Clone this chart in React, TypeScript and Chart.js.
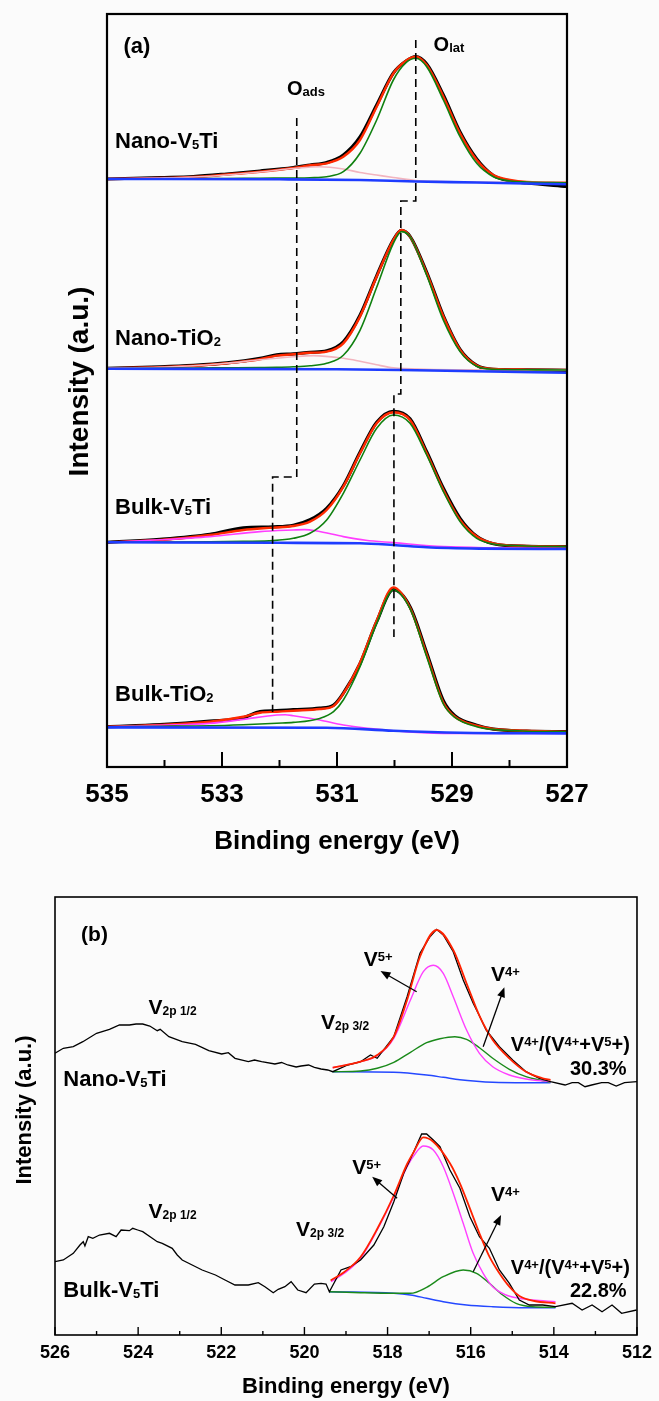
import React, { useEffect, useRef } from 'react';
import { Chart, registerables } from 'chart.js';
Chart.register(...registerables);

const FAMILY = '"Liberation Sans", Arial, Helvetica, sans-serif';

// ================= Panel (a): O 1s =================
const xMinA = 527;
const xMaxA = 535;
// vertical offsets of the stacked spectra (a.u.)
const offsetsA = [588, 398.7, 224.7, 40.3];

// Nano-V5Ti
const nanoV5TiE = [535.0, 534.08, 533.5, 532.92, 532.34, 531.76, 531.47, 531.18, 530.89, 530.6, 530.31, 530.02, 529.8, 529.63, 529.44, 529.15, 528.86, 528.57, 528.28, 527.99, 527.7, 527.0];
const nanoV5TiRaw = [0, 1.5, 2.5, 5, 8, 11.5, 14, 16.5, 24, 42, 74, 106, 118, 122.5, 115, 84, 47, 20, 3.5, -2, -4, -7.5];
const nanoV5TiFit = [0, 1, 2, 4.5, 7.3, 11, 13.7, 15.7, 22.3, 39, 72.3, 105.7, 118.3, 122.3, 114, 82.3, 45.7, 19, 4, -1, -3, -3.7];
const nanoV5TiLat = [0, 0, 0.3, 0.5, 0.8, 1, 1.3, 2.3, 7.3, 25.7, 59, 99, 116.3, 120.7, 112.3, 79, 42.3, 15.7, 2.3, -2, -3, -3.7];
const nanoV5TiAdsE = [535, 534.08, 533.5, 532.92, 532.34, 531.76, 531.3, 530.89, 530.6, 530.31, 530.02, 529.63, 529.15, 528.57, 527.99, 527.0];
const nanoV5TiAds = [0, 1, 2, 4, 7, 10.5, 12.3, 10, 6.5, 4, 1.5, -1.5, -2.5, -3, -3.3, -3.7];
const nanoV5TiBgE = [535, 532.0, 530.6, 529.63, 528.57, 527.0];
const nanoV5TiBg = [0, -0.3, -1, -2.5, -3.5, -5.3];

// Nano-TiO2
const nanoTiO2E = [535.0, 534.08, 533.5, 532.92, 532.34, 532.05, 531.76, 531.47, 531.18, 530.89, 530.6, 530.31, 530.02, 529.88, 529.73, 529.44, 529.15, 528.86, 528.57, 528.28, 527.7, 527.0];
const nanoTiO2Raw = [0, 1.5, 3, 5.5, 10, 13.5, 14.5, 16, 17.5, 26.5, 53, 92.5, 128.5, 138, 132, 96, 52.5, 19, 3, -1, -1.5, -2];
const nanoTiO2Fit = [0, 1, 2.5, 5, 9, 12.7, 14, 15.5, 16.7, 25, 51.7, 91.7, 128.3, 138.3, 131.7, 95, 51.7, 18.3, 2.7, -0.7, -1.3, -1.7];
const nanoTiO2Lat = [-0.3, 0, 0.2, 0.5, 0.8, 1, 1.5, 2.5, 5, 13, 38, 81, 125, 136.7, 131.7, 93, 48, 16.7, 2, -1, -1.5, -1.7];
const nanoTiO2AdsE = [535, 534.08, 533.5, 532.92, 532.34, 531.76, 531.41, 530.89, 530.6, 530.31, 530.02, 529.44, 528.57, 527.0];
const nanoTiO2Ads = [0, 1, 2.5, 5, 8.5, 11.5, 12.7, 10, 7, 3.5, 0.5, -1, -1.5, -1.7];
const nanoTiO2BgE = [535, 531.0, 529.9, 528.6, 527.0];
const nanoTiO2Bg = [-0.5, -1, -1.7, -3, -4.5];

// Bulk-V5Ti
const bulkV5TiE = [535.0, 534.08, 533.21, 532.63, 532.11, 531.76, 531.47, 531.18, 530.89, 530.6, 530.31, 530.02, 529.73, 529.44, 529.15, 528.86, 528.57, 528.28, 527.7, 527.0];
const bulkV5TiRaw = [0, 3, 8, 14.5, 15.5, 17, 22.5, 34, 56.5, 90, 120, 131, 123.5, 90.5, 54, 24, 6, -1.5, -4, -4.3];
const bulkV5TiFit = [0, 2.3, 7.3, 12.3, 14.7, 16.3, 20.7, 32.3, 55.7, 89, 119, 130, 122.3, 89, 52.3, 22.3, 5.7, -1, -3.7, -4.3];
const bulkV5TiLat = [0, 0.2, 0.5, 1, 1.7, 4, 9, 22.3, 49, 82.3, 114, 127.3, 119, 87.3, 50.7, 20.7, 4, -1.7, -3.7, -4.3];
const bulkV5TiAdsE = [535, 534.08, 533.21, 532.34, 531.76, 531.56, 531.35, 530.89, 530.5, 530.02, 529.15, 528.3, 527.0];
const bulkV5TiAds = [0, 2.5, 5.7, 10.7, 12.3, 12.7, 11.3, 5.7, 2, -0.3, -4.3, -5.5, -6];
const bulkV5TiBgE = [535, 532, 530.6, 530.02, 529.44, 528.5, 527.0];
const bulkV5TiBg = [0, -0.5, -1, -2.7, -5, -6.3, -6.7];

// Bulk-TiO2
const bulkTiO2E = [535.0, 534.08, 533.21, 532.63, 532.34, 532.05, 531.76, 531.3, 531.06, 530.89, 530.6, 530.31, 530.02, 529.73, 529.44, 529.15, 528.95, 528.57, 528.28, 527.7, 527.0];
const bulkTiO2Raw = [0, 2, 5.5, 9, 15, 16, 17, 18.5, 21.5, 33.5, 63, 105, 137, 120, 74, 26, 11, 1.5, -2.5, -4.5, -5];
const bulkTiO2Fit = [0, 1.7, 5, 10, 14, 15, 16, 17.7, 20.7, 33, 64, 106, 139.3, 119, 72, 24, 10, 1, -2.3, -4, -5];
const bulkTiO2Lat = [0, 0.5, 1, 2, 2.7, 3.5, 4.3, 8.3, 15, 26.7, 60, 103.3, 136.7, 118, 70, 22.7, 9.3, 0, -2.7, -4.5, -5];
const bulkTiO2AdsE = [535, 534.08, 533.21, 532.63, 532.05, 531.9, 531.76, 531.3, 530.89, 530.02, 529.15, 528.0, 527.0];
const bulkTiO2Ads = [0, 1.5, 3.3, 7.3, 11.7, 12, 11, 6.7, 1.7, -4, -6.7, -6.7, -6.7];
const bulkTiO2BgE = [535, 531.18, 530.02, 528.86, 527.0];
const bulkTiO2Bg = [-0.7, -1, -4, -6, -6.7];

// dashed guide lines (peak positions)
const oLatDashE = [529.63, 529.63, 529.89, 529.89, 530.01, 530.01];
const oLatDashV = [727, 566, 566, 373, 373, 130];
const oAdsDashE = [531.7, 531.7, 532.12, 532.12];
const oAdsDashV = [649, 290, 290, 55];

// ================= Panel (b): V 2p =================
const xMinB = 512;
const xMaxB = 526;

const nanoRawE = [526.0, 525.8, 525.56, 525.33, 525.0, 524.69, 524.45, 524.21, 524.05, 523.89, 523.72, 523.54, 523.47, 523.26, 522.94, 522.62, 522.3, 521.99, 521.83, 521.67, 521.35, 521.2, 521.03, 520.71, 520.55, 520.4, 520.2, 520.08, 519.9, 519.76, 519.6, 519.44, 519.32, 518.96, 518.65, 518.41, 518.25, 517.85, 517.53, 517.22, 516.98, 516.82, 516.66, 516.42, 516.18, 515.94, 515.82, 515.63, 515.31, 514.99, 514.67, 514.35, 514.08, 513.73, 513.56, 513.41, 513.25, 513.09, 512.85, 512.69, 512.5, 512.3, 512.0];
const nanoRawV = [281.7, 286.7, 288.3, 293.3, 301.7, 305.7, 310, 310, 311, 311, 309, 304.3, 305.7, 298.3, 293.3, 290.7, 284.3, 281, 282.3, 276.7, 273.3, 275, 273.3, 271, 272.5, 270, 268, 269, 270, 267.7, 266, 265, 263.3, 270, 273.3, 280, 276.7, 298.3, 338.3, 381.7, 398.3, 405.7, 400, 383.3, 355, 331.7, 321.7, 305, 288.3, 275, 263.3, 256.7, 253.3, 250, 252.3, 252.3, 248.3, 250, 252.3, 252.3, 249, 252.3, 253.3];
const nanoFitE = [519.32, 518.65, 518.25, 517.85, 517.53, 517.22, 516.82, 516.42, 516.1, 515.78, 515.47, 515.07, 514.67, 514.27, 514.08];
const nanoFitV = [267.3, 273.3, 280, 298.3, 335, 378.3, 405, 385, 351.7, 318.3, 295, 276.7, 263.3, 256.7, 255];
const nanoV5E = [519.32, 518.65, 518.25, 517.85, 517.45, 517.14, 516.9, 516.66, 516.42, 516.1, 515.79, 515.47, 515.07, 514.67, 514.08];
const nanoV5V = [267.3, 273.3, 279.3, 296.7, 335, 363.3, 369.7, 361.7, 338.3, 305, 281.7, 268.3, 260, 256, 253.3];
const nanoV4E = [519.32, 518.65, 518.25, 517.85, 517.45, 517.06, 516.74, 516.38, 516.1, 515.79, 515.47, 515.07, 514.67, 514.35, 514.08];
const nanoV4V = [263.3, 264, 266.7, 272.7, 282.7, 292.3, 296.3, 298.3, 295.7, 287.3, 276.7, 265.7, 258.3, 255, 252.7];
const nanoBgE = [519.32, 517.85, 517.06, 516.66, 516.26, 515.86, 515.47, 514.67, 514.08];
const nanoBgV = [263.3, 262.7, 260, 257.7, 255.3, 253.7, 252.7, 252.3, 252.3];

const bulkRawE = [526.0, 525.8, 525.56, 525.4, 525.32, 525.28, 525.2, 525.09, 524.93, 524.69, 524.53, 524.41, 524.21, 524.13, 524.01, 523.89, 523.66, 523.54, 523.42, 523.18, 523.06, 522.94, 522.7, 522.46, 522.14, 521.91, 521.67, 521.35, 521.11, 520.95, 520.75, 520.63, 520.47, 520.32, 520.16, 519.96, 519.76, 519.6, 519.48, 519.4, 519.12, 518.89, 518.65, 518.33, 518.09, 517.85, 517.61, 517.37, 517.18, 517.06, 516.9, 516.74, 516.5, 516.26, 516.02, 515.79, 515.55, 515.31, 515.07, 514.83, 514.59, 514.27, 513.96, 513.56, 513.32, 513.08, 512.84, 512.6, 512.37, 512.01];
const bulkRawV = [73.3, 75, 81.7, 90, 93.3, 89, 98.3, 96.7, 100, 101.7, 98.3, 105, 104.3, 106.7, 105, 103.3, 96.7, 93.3, 91.7, 86.7, 80, 75, 70, 65, 60, 55, 50, 50, 52.3, 48.3, 42.3, 45.7, 48.3, 53.3, 45, 42.3, 51, 51.7, 51, 43.3, 65, 68.3, 75, 90, 108.3, 133.3, 161.7, 183.3, 201, 201, 195, 188.3, 165, 146.7, 118.3, 98.3, 86.7, 65, 51.7, 35, 30, 30, 28.3, 31.7, 25, 30, 23.3, 30, 21.7, 25];
const bulkFitE = [519.37, 519.04, 518.65, 518.25, 517.85, 517.53, 517.37, 517.14, 516.9, 516.5, 516.26, 516.02, 515.79, 515.55, 515.31, 515.07, 514.83, 514.47, 513.96];
const bulkFitV = [54.5, 63, 78, 106, 139.5, 171, 183, 197.7, 193.3, 171.7, 151.7, 126.7, 101.7, 78.3, 61.7, 48.3, 39, 34, 31.7];
const bulkV5E = [519.36, 519.04, 518.65, 518.25, 517.85, 517.53, 517.3, 517.14, 516.9, 516.66, 516.42, 516.18, 515.94, 515.7, 515.47, 515.15, 514.83, 514.51, 513.96];
const bulkV5V = [53.3, 61.7, 76.7, 105, 138.3, 168.3, 183.3, 189, 185, 168.3, 141.7, 111.7, 81.7, 61.7, 48.3, 40, 36.7, 35, 33.3];
const bulkV4E = [519.4, 518.65, 517.85, 517.45, 517.06, 516.66, 516.18, 515.86, 515.55, 515.23, 514.91, 514.51, 513.96];
const bulkV4V = [43.3, 42.3, 41.7, 41.7, 47.7, 58.3, 65, 61.7, 51.7, 40, 31.7, 28.3, 27.7];
const bulkBgE = [519.4, 517.85, 517.45, 517.06, 516.66, 516.1, 515.47, 514.67, 513.96];
const bulkBgV = [43.3, 41.7, 40, 36.7, 33.3, 30, 28.3, 27.3, 27.3];

// ================= helpers =================
type Pt = { x: number; y: number };
const series = (E: number[], V: number[], off = 0): Pt[] => E.map((e, i) => ({ x: e, y: V[i] + off }));

function ds(data: Pt[], color: string, width: number, order: number, extra: any = {}) {
  return {
    data,
    borderColor: color,
    backgroundColor: color,
    borderWidth: width,
    pointRadius: 0,
    pointHoverRadius: 0,
    fill: false,
    order,
    cubicInterpolationMode: 'monotone',
    ...extra,
  };
}

type Seg = { t: string; k: 'n' | 'sub' | 'sup' };
function parseRich(s: string): Seg[] {
  const out: Seg[] = [];
  let buf = '';
  let i = 0;
  while (i < s.length) {
    const c = s[i];
    if ((c === '_' || c === '^') && s[i + 1] === '{') {
      if (buf) { out.push({ t: buf, k: 'n' }); buf = ''; }
      const end = s.indexOf('}', i + 2);
      out.push({ t: s.slice(i + 2, end), k: c === '_' ? 'sub' : 'sup' });
      i = end + 1;
    } else { buf += c; i++; }
  }
  if (buf) out.push({ t: buf, k: 'n' });
  return out;
}

function drawRich(ctx: CanvasRenderingContext2D, s: string, px: number, py: number, size: number, small: number, align: string) {
  const segs = parseRich(s);
  const f = (k: string) => `bold ${k === 'n' ? size : small}px ${FAMILY}`;
  let w = 0;
  segs.forEach((g) => { ctx.font = f(g.k); w += ctx.measureText(g.t).width; });
  let cx = align === 'center' ? px - w / 2 : align === 'right' ? px - w : px;
  const base = py + size * 0.358;
  ctx.textBaseline = 'alphabetic';
  ctx.textAlign = 'left';
  segs.forEach((g) => {
    ctx.font = f(g.k);
    const dy = g.k === 'sub' ? size * 0.05 : g.k === 'sup' ? -size * 0.25 : 0;
    ctx.fillText(g.t, cx, base + dy);
    cx += ctx.measureText(g.t).width;
  });
}

function drawArrow(ctx: CanvasRenderingContext2D, x1: number, y1: number, x2: number, y2: number) {
  const ang = Math.atan2(y2 - y1, x2 - x1);
  const L = 10, W = 4;
  ctx.beginPath();
  ctx.moveTo(x1, y1);
  ctx.lineTo(x2 - (L - 2) * Math.cos(ang), y2 - (L - 2) * Math.sin(ang));
  ctx.stroke();
  ctx.beginPath();
  ctx.moveTo(x2, y2);
  ctx.lineTo(x2 - L * Math.cos(ang) + W * Math.sin(ang), y2 - L * Math.sin(ang) - W * Math.cos(ang));
  ctx.lineTo(x2 - L * Math.cos(ang) - W * Math.sin(ang), y2 - L * Math.sin(ang) + W * Math.cos(ang));
  ctx.closePath();
  ctx.fill();
}

type TextItem = { s: string; e: number; v: number; size: number; small: number; align: string };
type ArrowItem = { from: [number, number]; to: [number, number] };

function decor(p: any) {
  return {
    id: 'decor-' + p.name,
    afterDatasetsDraw(chart: any) {
      const { ctx, chartArea: ca, scales } = chart;
      const x = scales.x, y = scales.y;
      ctx.save();
      ctx.strokeStyle = '#000';
      ctx.fillStyle = '#000';
      // inward ticks
      ctx.lineWidth = p.tickWidth;
      for (let v = x.min; v <= x.max + 1e-9; v += 1) {
        const px = x.getPixelForValue(v);
        const major = Math.abs((v - x.min) % 2) < 1e-6;
        const len = major ? p.majorLen : p.minorLen;
        ctx.beginPath();
        ctx.moveTo(px, ca.bottom);
        ctx.lineTo(px, ca.bottom - len);
        ctx.stroke();
      }
      // frame
      ctx.lineWidth = p.frameWidth;
      ctx.strokeRect(ca.left, ca.top, ca.right - ca.left, ca.bottom - ca.top);
      // arrows
      ctx.lineWidth = 1.3;
      (p.arrows as ArrowItem[]).forEach((a) => {
        drawArrow(ctx, x.getPixelForValue(a.from[0]), y.getPixelForValue(a.from[1]), x.getPixelForValue(a.to[0]), y.getPixelForValue(a.to[1]));
      });
      // annotations
      (p.texts as TextItem[]).forEach((t) => {
        drawRich(ctx, t.s, x.getPixelForValue(t.e), y.getPixelForValue(t.v), t.size, t.small, t.align);
      });
      // axis titles
      ctx.font = `bold ${p.xTitleSize}px ${FAMILY}`;
      ctx.textAlign = 'center';
      ctx.textBaseline = 'middle';
      ctx.fillText(p.xTitle, (ca.left + ca.right) / 2, ca.bottom + p.xTitleOff);
      ctx.save();
      ctx.translate(p.yTitleX, (ca.top + ca.bottom) / 2 + p.yTitleShift);
      ctx.rotate(-Math.PI / 2);
      ctx.font = `bold ${p.yTitleSize}px ${FAMILY}`;
      ctx.fillText(p.yTitle, 0, 0);
      ctx.restore();
      ctx.restore();
    },
  };
}

function options(p: any) {
  return {
    animation: false,
    responsive: false,
    maintainAspectRatio: false,
    devicePixelRatio: 1,
    events: [],
    layout: { padding: { top: p.padTop, right: p.padRight, left: 0, bottom: 0 } },
    plugins: { legend: { display: false }, tooltip: { enabled: false }, title: { display: false } },
    scales: {
      x: {
        type: 'linear', min: p.xMin, max: p.xMax, reverse: true,
        ticks: { stepSize: 2, autoSkip: false, maxRotation: 0, color: '#000', padding: p.tickPad, font: { family: FAMILY, size: p.tickSize, weight: 'bold' } },
        grid: { display: false, drawTicks: false },
        border: { display: false },
        afterFit: (s: any) => { s.height = p.xAxisH; },
      },
      y: {
        type: 'linear', min: 0, max: p.yMax,
        ticks: { display: false },
        grid: { display: false, drawTicks: false },
        border: { display: false },
        afterFit: (s: any) => { s.width = p.yAxisW; },
      },
    },
  };
}

function configA() {
  const black = '#000000', red = '#ff2a00', green = '#0f800f', pink = '#f2b4be', magenta = '#ff3dff', blue = '#1e3cff';
  const spectra = [
    { E: nanoV5TiE, raw: nanoV5TiRaw, fit: nanoV5TiFit, lat: nanoV5TiLat, adsE: nanoV5TiAdsE, ads: nanoV5TiAds, bgE: nanoV5TiBgE, bg: nanoV5TiBg, adsColor: pink },
    { E: nanoTiO2E, raw: nanoTiO2Raw, fit: nanoTiO2Fit, lat: nanoTiO2Lat, adsE: nanoTiO2AdsE, ads: nanoTiO2Ads, bgE: nanoTiO2BgE, bg: nanoTiO2Bg, adsColor: pink },
    { E: bulkV5TiE, raw: bulkV5TiRaw, fit: bulkV5TiFit, lat: bulkV5TiLat, adsE: bulkV5TiAdsE, ads: bulkV5TiAds, bgE: bulkV5TiBgE, bg: bulkV5TiBg, adsColor: magenta },
    { E: bulkTiO2E, raw: bulkTiO2Raw, fit: bulkTiO2Fit, lat: bulkTiO2Lat, adsE: bulkTiO2AdsE, ads: bulkTiO2Ads, bgE: bulkTiO2BgE, bg: bulkTiO2Bg, adsColor: magenta },
  ];
  const datasets: any[] = [];
  spectra.forEach((s, i) => {
    const off = offsetsA[i];
    datasets.push(ds(series(s.E, s.raw, off), black, 3.2, 6));
    datasets.push(ds(series(s.E, s.fit, off), red, 2.4, 5));
    datasets.push(ds(series(s.adsE, s.ads, off), s.adsColor, 1.6, 4));
    datasets.push(ds(series(s.E, s.lat, off), green, 1.6, 3));
    datasets.push(ds(series(s.bgE, s.bg, off), blue, 2.6, 2));
  });
  const dash = { cubicInterpolationMode: 'default', tension: 0, borderDash: [8, 5] };
  datasets.push(ds(series(oLatDashE, oLatDashV), black, 1.6, 1, dash));
  datasets.push(ds(series(oAdsDashE, oAdsDashV), black, 1.6, 1, dash));

  const p = {
    name: 'a', xMin: xMinA, xMax: xMaxA, yMax: 753,
    padTop: 14, padRight: 92, xAxisH: 103, yAxisW: 107, tickPad: 12, tickSize: 26,
    tickWidth: 2, majorLen: 15, minorLen: 7, frameWidth: 2.2,
    xTitle: 'Binding energy (eV)', xTitleSize: 26, xTitleOff: 75,
    yTitle: 'Intensity (a.u.)', yTitleSize: 28, yTitleX: 80, yTitleShift: -9,
    arrows: [] as ArrowItem[],
    texts: [
      { s: '(a)', e: 534.48, v: 722, size: 22, small: 14, align: 'center' },
      { s: 'O_{lat}', e: 529.32, v: 723, size: 20, small: 13, align: 'left' },
      { s: 'O_{ads}', e: 531.87, v: 679, size: 20, small: 13, align: 'left' },
      { s: 'Nano-V_{5}Ti', e: 534.86, v: 627, size: 22, small: 13, align: 'left' },
      { s: 'Nano-TiO_{2}', e: 534.86, v: 430, size: 22, small: 13, align: 'left' },
      { s: 'Bulk-V_{5}Ti', e: 534.86, v: 261, size: 22, small: 13, align: 'left' },
      { s: 'Bulk-TiO_{2}', e: 534.86, v: 73.5, size: 22, small: 13, align: 'left' },
    ] as TextItem[],
  };
  return { type: 'line', data: { datasets }, options: options(p), plugins: [decor(p)] } as any;
}

function configB() {
  const black = '#000000', red = '#ff2200', magenta = '#ff40ff', green = '#1a8a1a', blue = '#2448ff';
  const raw = { cubicInterpolationMode: 'default', tension: 0 };
  const datasets: any[] = [
    ds(series(nanoRawE, nanoRawV), black, 1.3, 2, raw),
    ds(series(nanoFitE, nanoFitV), red, 1.8, 1),
    ds(series(nanoV5E, nanoV5V), magenta, 1.4, 3),
    ds(series(nanoV4E, nanoV4V), green, 1.4, 4),
    ds(series(nanoBgE, nanoBgV), blue, 1.4, 5),
    ds(series(bulkRawE, bulkRawV), black, 1.3, 2, raw),
    ds(series(bulkFitE, bulkFitV), red, 1.8, 1),
    ds(series(bulkV5E, bulkV5V), magenta, 1.4, 3),
    ds(series(bulkV4E, bulkV4V), green, 1.4, 4),
    ds(series(bulkBgE, bulkBgV), blue, 1.4, 5),
  ];
  const p = {
    name: 'b', xMin: xMinB, xMax: xMaxB, yMax: 438,
    padTop: 27, padRight: 17, xAxisH: 66, yAxisW: 55, tickPad: 7, tickSize: 18,
    tickWidth: 1.4, majorLen: 8, minorLen: 4, frameWidth: 1.6,
    xTitle: 'Binding energy (eV)', xTitleSize: 22, xTitleOff: 52,
    yTitle: 'Intensity (a.u.)', yTitleSize: 22, yTitleX: 25, yTitleShift: -6,
    arrows: [
      { from: [517.3, 343.3], to: [518.17, 364] },
      { from: [515.7, 288.3], to: [515.19, 347.7] },
      { from: [517.77, 136.7], to: [518.37, 158.3] },
      { from: [515.94, 63.3], to: [515.27, 120] },
    ] as ArrowItem[],
    texts: [
      { s: '(b)', e: 525.05, v: 402, size: 21, small: 13, align: 'center' },
      { s: 'V_{2p 1/2}', e: 523.75, v: 328.3, size: 21, small: 12, align: 'left' },
      { s: 'V_{2p 3/2}', e: 519.6, v: 313.3, size: 21, small: 12, align: 'left' },
      { s: 'Nano-V_{5}Ti', e: 525.8, v: 256.7, size: 22, small: 13, align: 'left' },
      { s: 'V^{5+}', e: 518.57, v: 376.7, size: 21, small: 13, align: 'left' },
      { s: 'V^{4+}', e: 515.51, v: 361.7, size: 21, small: 13, align: 'left' },
      { s: 'V^{4+}/(V^{4+}+V^{5}+)', e: 512.17, v: 291, size: 20, small: 13, align: 'right' },
      { s: '30.3%', e: 512.25, v: 267.3, size: 20, small: 13, align: 'right' },
      { s: 'V_{2p 1/2}', e: 523.75, v: 125, size: 21, small: 12, align: 'left' },
      { s: 'V_{2p 3/2}', e: 520.2, v: 106.7, size: 21, small: 12, align: 'left' },
      { s: 'Bulk-V_{5}Ti', e: 525.8, v: 45.7, size: 22, small: 13, align: 'left' },
      { s: 'V^{5+}', e: 518.85, v: 168.3, size: 21, small: 13, align: 'left' },
      { s: 'V^{4+}', e: 515.51, v: 141.7, size: 21, small: 13, align: 'left' },
      { s: 'V^{4+}/(V^{4+}+V^{5}+)', e: 512.17, v: 68.3, size: 20, small: 13, align: 'right' },
      { s: '22.8%', e: 512.25, v: 45, size: 20, small: 13, align: 'right' },
    ] as TextItem[],
  };
  return { type: 'line', data: { datasets }, options: options(p), plugins: [decor(p)] } as any;
}

export default function App() {
  const refA = useRef<HTMLCanvasElement>(null);
  const refB = useRef<HTMLCanvasElement>(null);
  useEffect(() => {
    const a = new Chart(refA.current as HTMLCanvasElement, configA());
    const b = new Chart(refB.current as HTMLCanvasElement, configB());
    return () => { a.destroy(); b.destroy(); };
  }, []);
  return (
    <div style={{ position: 'absolute', left: 0, top: 0, width: 659, height: 1401, background: '#fbfbfb', overflow: 'hidden' }}>
      <canvas ref={refA} width={659} height={870} style={{ position: 'absolute', left: 0, top: 0, width: 659, height: 870 }} />
      <canvas ref={refB} width={659} height={531} style={{ position: 'absolute', left: 0, top: 870, width: 659, height: 531 }} />
    </div>
  );
}
